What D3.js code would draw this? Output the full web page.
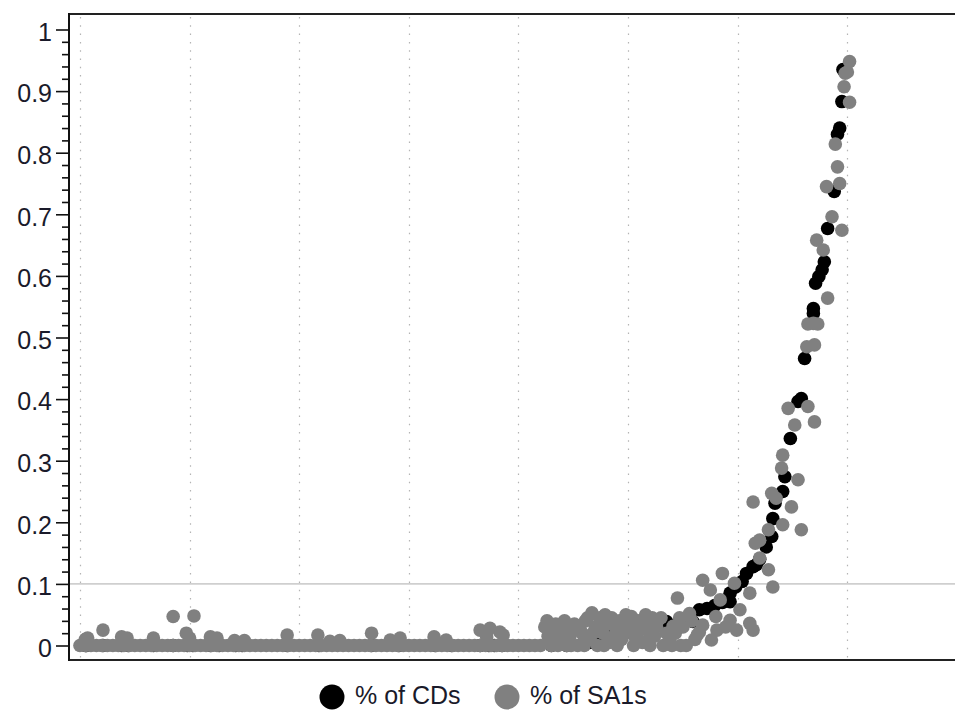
<!DOCTYPE html>
<html><head><meta charset="utf-8">
<script src="https://cdn.jsdelivr.net/npm/d3@7"></script>
<style>
html,body{margin:0;padding:0;background:#fff;}
svg{display:block;font-family:"Liberation Sans",Arial,sans-serif;}
</style></head>
<body><svg id="c" width="955" height="713"></svg>
<script>
const yTickValues = [0,0.1,0.2,0.3,0.4,0.5,0.6,0.7,0.8,0.9,1];
const yTickLabels = ["0","0.1","0.2","0.3","0.4","0.5","0.6","0.7","0.8","0.9","1"];
const yMinorValues = [0.02,0.04,0.06,0.08,0.12,0.14,0.16,0.18,0.22,0.24,0.26,0.28,0.32,0.34,0.36,0.38,0.42,0.44,0.46,0.48,0.52,0.54,0.56,0.58,0.62,0.64,0.66,0.68,0.72,0.74,0.76,0.78,0.82,0.84,0.86,0.88,0.92,0.94,0.96,0.98];
const xGridValues = [0,100,200,300,400,500,600,700];
const refLineValue = 0.1;
const seriesNames = ["% of CDs","% of SA1s"];

// % of CDs (black)
const cdX = [5,6,21,38,44,67,85,98,103,119,127,142,148,189,218,266,291,324,339,365,373,378,385,
  430,444,465,476,486,499,511,518,523,529,535,547,559,565,572,579,586,593,593,598,604,608,614,617,620,626,631,632,634,641,643,648,655,658,661,669,669,671,674,677,679,682,688,691,693,695,696];
const cdY = [0,0,0,0,0,0,0,0,0,0,0,0,0,0,0,0,0,0,0,0,0,0,0,
  0,0,0.005,0.014,0.025,0.022,0.03,0.036,0.03,0.035,0.039,0.04,0.039,0.058,0.06,0.065,0.07,0.071,0.085,0.095,0.104,0.117,0.128,0.131,0.14,0.16,0.177,0.206,0.231,0.25,0.274,0.336,0.396,0.401,0.466,0.539,0.547,0.588,0.599,0.61,0.623,0.677,0.737,0.83,0.84,0.883,0.935];

// % of SA1s (grey)
const sa1X = [0,5,10,15,20,25,30,35,40,45,50,55,60,65,70,75,80,85,90,95,100,105,110,115,120,125,130,135,140,145,150,155,160,165,170,175,180,185,190,195,200,205,210,215,220,225,230,235,240,245,250,255,260,265,270,275,280,285,290,295,300,305,310,315,320,325,330,335,340,345,350,355,360,365,370,375,380,385,390,395,400,405,410,415,420,
  5,7,4,21,38,43,67,85,104,97,100,119,125,141,150,189,217,228,237,266,283,292,323,334,365,374,383,371,386,
  424,427,430,434,438,440,445,447,451,454,458,461,465,467,470,472,474,477,481,483,485,489,492,494,498,500,503,506,509,511,513,516,518,522,524,527,532,535,541,545,547,553,556,561,563,565,568,568,575,576,580,581,584,586,589,593,597,599,602,611,611,614,
  426,432,436,442,444,449,456,460,463,468,476,479,487,490,496,502,505,508,514,520,526,530,538,543,550,558,436,448,460,478,490,520,540,548,
  632,628,620,616,620,628,614,631,635,649,641,658,640,641,655,652,670,646,664,663,670,664,673,669,682,678,672,695,686,681,693,691,689,702,697,698,700,702];
const sa1Y = [0,0,0,0,0,0,0,0,0,0,0,0,0,0,0,0,0,0,0,0,0,0,0,0,0,0,0,0,0,0,0,0,0,0,0,0,0,0,0,0,0,0,0,0,0,0,0,0,0,0,0,0,0,0,0,0,0,0,0,0,0,0,0,0,0,0,0,0,0,0,0,0,0,0,0,0,0,0,0,0,0,0,0,0,0,
  0.01,0.012,0.005,0.025,0.014,0.012,0.012,0.047,0.048,0.02,0.012,0.014,0.012,0.008,0.008,0.017,0.017,0.007,0.008,0.02,0.009,0.012,0.014,0.009,0.025,0.028,0.022,0.014,0.017,
  0.03,0.015,0,0.035,0.02,0.005,0.03,0.015,0.035,0,0.02,0.04,0.01,0.053,0.03,0,0.045,0.02,0.035,0.005,0.045,0.025,0.04,0.01,0.05,0.03,0.047,0.015,0.04,0.025,0.005,0.05,0.03,0.045,0.015,0.04,0,0.02,0.031,0.077,0.045,0,0.052,0.01,0.017,0.022,0.033,0.106,0.09,0.009,0.047,0.025,0.074,0.117,0.03,0.041,0.101,0.025,0.058,0.036,0.085,0.025,
  0.04,0.022,0.01,0.04,0,0.025,0.03,0.008,0.045,0.02,0.033,0.05,0.015,0.032,0.02,0.035,0,0.025,0.04,0.02,0.03,0.045,0.01,0.02,0.03,0.04,0,0,0,0,0,0,0,0,
  0.095,0.123,0.142,0.166,0.171,0.188,0.233,0.247,0.239,0.225,0.196,0.188,0.288,0.309,0.269,0.358,0.363,0.385,0.388,0.485,0.488,0.522,0.522,0.523,0.564,0.642,0.658,0.674,0.696,0.745,0.75,0.777,0.814,0.882,0.907,0.929,0.931,0.948];

const svg = d3.select("#c");
const pLeft = 69, pRight = 955, pTop = 14, pBottom = 660;
const x = d3.scaleLinear().domain([-10, 800]).range([69, 957]);
const y = d3.scaleLinear().domain([0, 1]).range([645.5, 29.5]);

svg.append("defs").append("clipPath").attr("id","clip")
  .append("rect").attr("x",pLeft).attr("y",pTop).attr("width",pRight-pLeft).attr("height",pBottom-pTop);

// vertical dotted grid
svg.append("g").selectAll("line").data(xGridValues).join("line")
  .attr("x1", d => Math.round(x(d))+0.5).attr("x2", d => Math.round(x(d))+0.5)
  .attr("y1", pTop+3).attr("y2", pBottom)
  .attr("stroke", "#b4b4b4").attr("stroke-width", 1.2).attr("stroke-dasharray", "1.5,6.8");

// reference line at 0.1
svg.append("line").attr("x1", pLeft).attr("x2", pRight)
  .attr("y1", y(refLineValue)).attr("y2", y(refLineValue))
  .attr("stroke", "#cfcfcf").attr("stroke-width", 1.6);

const plot = svg.append("g").attr("clip-path","url(#clip)");
plot.append("g").selectAll("circle").data(cdX.map((v,i)=>[v,cdY[i]])).join("circle")
  .attr("cx", d => x(d[0])).attr("cy", d => y(d[1])).attr("r", 6.8).attr("fill", "#000");
plot.append("g").selectAll("circle").data(sa1X.map((v,i)=>[v,sa1Y[i]])).join("circle")
  .attr("cx", d => x(d[0])).attr("cy", d => y(d[1])).attr("r", 6.8).attr("fill", "#808080");

// frame
svg.append("line").attr("x1", pLeft).attr("x2", pRight).attr("y1", pTop).attr("y2", pTop).attr("stroke","#222").attr("stroke-width",2);
svg.append("line").attr("x1", pLeft).attr("x2", pRight).attr("y1", pBottom).attr("y2", pBottom).attr("stroke","#222").attr("stroke-width",2);

// y axis
const gMinor = svg.append("g").attr("transform", `translate(${pLeft},0)`)
  .call(d3.axisLeft(y).tickValues(yMinorValues).tickSize(7).tickFormat(""));
gMinor.select(".domain").remove();
gMinor.selectAll("line").attr("stroke","#111").attr("stroke-width",1.6);

const gMajor = svg.append("g").attr("transform", `translate(${pLeft},0)`)
  .call(d3.axisLeft(y).tickValues(yTickValues).tickSize(13).tickPadding(4)
    .tickFormat((d,i) => yTickLabels[i]));
gMajor.select(".domain").remove();
gMajor.selectAll("line").attr("stroke","#111").attr("stroke-width",1.6);
gMajor.selectAll("text").attr("font-size", 25).attr("fill","#1a1a2a")
  .attr("font-family", '"Liberation Sans",Arial,sans-serif').attr("dy", "0.43em");

svg.append("line").attr("x1", pLeft).attr("x2", pLeft).attr("y1", pTop-1).attr("y2", pBottom+1)
  .attr("stroke","#111").attr("stroke-width",2);

// legend
const legendColors = ["#000", "#808080"];
const legendX = [332, 507];
const lg = svg.append("g");
seriesNames.forEach((name, i) => {
  lg.append("circle").attr("cx", legendX[i]).attr("cy", 697).attr("r", 12.5).attr("fill", legendColors[i]);
  lg.append("text").attr("x", legendX[i] + 23).attr("y", 704).attr("font-size", 25)
    .attr("fill", "#1a1a2a").text(name);
});
</script></body></html>
